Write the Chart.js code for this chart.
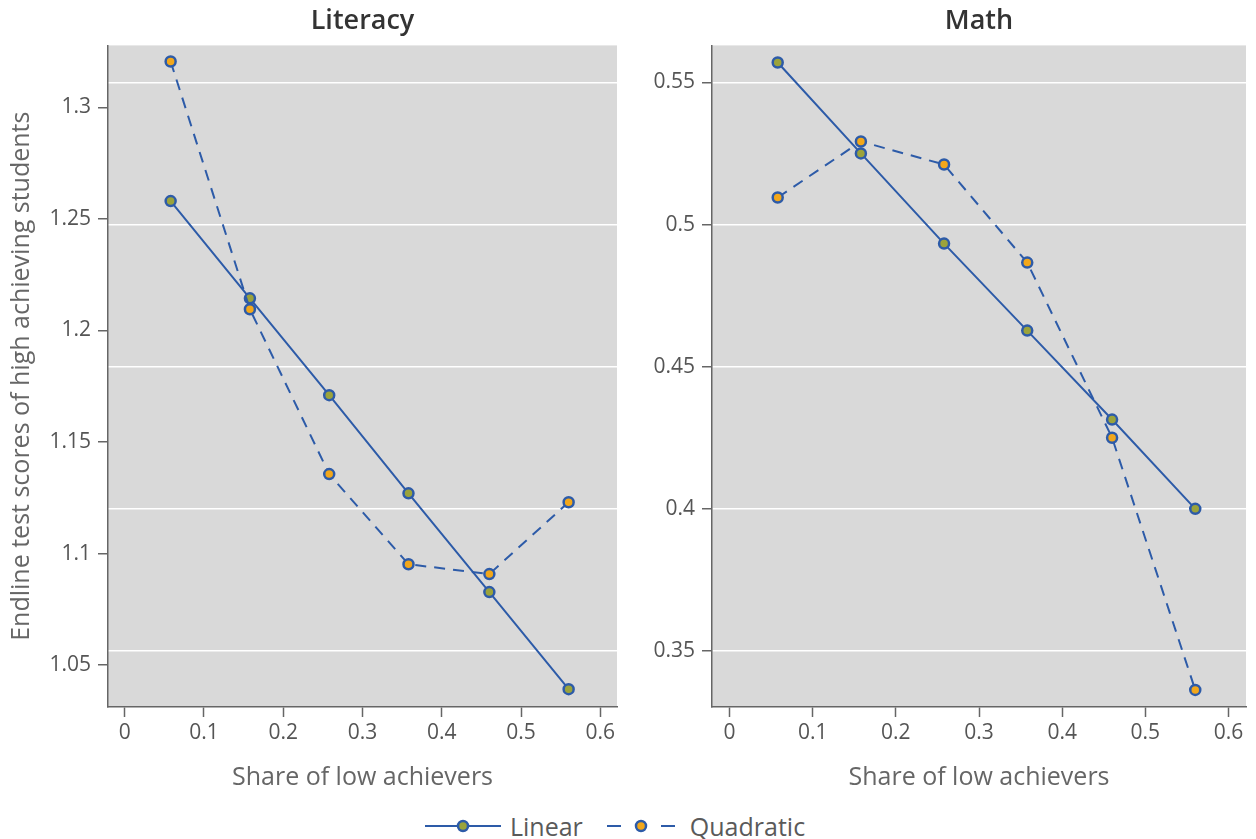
<!DOCTYPE html>
<html lang="en">

<head>
    <meta charset="UTF-8">
    <title>Endline test scores of high achieving students</title>
    <script src="https://cdn.jsdelivr.net/npm/chart.js"></script>
    <style>
        body {
            margin: 0;
            background: #fff;
            font-family: 'Open Sans', sans-serif;
        }

        .wrap {
            position: relative;
            width: 1256px;
            height: 839px;
        }

        #litBox {
            position: absolute;
            left: 0;
            top: 0;
        }

        #mathBox {
            position: absolute;
            left: 630px;
            top: 0;
        }

        .legend {
            position: absolute;
            left: 425px;
            top: 809px;
            display: flex;
            align-items: center;
            color: #5a5a5a;
            font-size: 25px;
        }

        .legend span {
            margin: 0 24px 0 9px;
        }
    </style>
</head>

<body>
    <div class="wrap">
        <div id="litBox"><canvas id="litChart" width="630" height="800"></canvas></div>
        <div id="mathBox"><canvas id="mathChart" width="626" height="800"></canvas></div>
        <div class="legend">
            <svg width="76" height="20">
                <line x1="0" y1="10" x2="76" y2="10" stroke="#2d5ba8" stroke-width="2"></line>
                <circle cx="38" cy="10" r="5" fill="#9ba33b" stroke="#2d5ba8" stroke-width="2.5"></circle>
            </svg>
            <span>Linear</span>
            <svg width="68" height="20">
                <line x1="0" y1="10" x2="14" y2="10" stroke="#2d5ba8" stroke-width="2"></line>
                <line x1="54" y1="10" x2="68" y2="10" stroke="#2d5ba8" stroke-width="2"></line>
                <circle cx="34" cy="10" r="5" fill="#f2a71b" stroke="#2d5ba8" stroke-width="2.5"></circle>
            </svg>
            <span style="margin-left: 15px">Quadratic</span>
        </div>
    </div>

    <script>
        // data
        const xShare = [0.058, 0.158, 0.258, 0.358, 0.46, 0.56];
        const litLinear = [1.258, 1.2144, 1.171, 1.127, 1.0827, 1.0392];
        const litQuad = [1.3206, 1.2095, 1.1356, 1.0952, 1.0908, 1.123];
        const mathLinear = [0.557, 0.525, 0.4933, 0.4627, 0.4314, 0.400];
        const mathQuad = [0.5095, 0.5292, 0.5211, 0.4866, 0.425, 0.3363];

        // tick labels
        const xTicks = [0, 0.1, 0.2, 0.3, 0.4, 0.5, 0.6];
        const litTicks = [1.05, 1.1, 1.15, 1.2, 1.25, 1.3];
        const mathTicks = [0.35, 0.4, 0.45, 0.5, 0.55];

        // axis ranges
        const xMin = -0.021, xMax = 0.621;
        const litMin = 1.0312, litMax = 1.3278;
        const mathMin = 0.3303, mathMax = 0.563;

        const blue = '#2d5ba8';
        const olive = '#9ba33b';
        const orange = '#f2a71b';
        const axisGray = '#666';

        Chart.defaults.font.family = "'Open Sans', sans-serif";
        Chart.defaults.color = '#555';

        const plotBg = {
            id: 'plotBg',
            beforeDraw(chart) {
                const { ctx, chartArea: a } = chart;
                ctx.save();
                ctx.fillStyle = '#d9d9d9';
                ctx.fillRect(a.left, a.top, a.width, a.height);
                ctx.restore();
            }
        };

        function pts(ys) {
            return xShare.map((x, i) => ({ x: x, y: ys[i] }));
        }

        function series(label, ys, fill, dash, order) {
            return {
                label: label,
                data: pts(ys),
                borderColor: blue,
                borderWidth: 2,
                borderDash: dash,
                pointRadius: 5,
                pointBorderWidth: 2.5,
                pointBackgroundColor: fill,
                pointBorderColor: blue,
                tension: 0,
                order: order
            };
        }

        function fixTicks(list) {
            return s => { s.ticks = list.map(v => ({ value: v })); };
        }

        function xScale() {
            return {
                type: 'linear',
                min: xMin,
                max: xMax,
                afterBuildTicks: fixTicks(xTicks),
                afterFit: s => { s.height = 93; },
                border: { color: axisGray, width: 1.5 },
                grid: { drawOnChartArea: false, tickLength: 10, tickColor: axisGray, tickWidth: 1.5 },
                ticks: { padding: 3, font: { size: 21, weight: 500 }, color: '#555', callback: v => String(v) },
                title: {
                    display: true,
                    text: 'Share of low achievers',
                    color: '#666',
                    font: { size: 25 },
                    padding: { top: 0, bottom: 7 }
                }
            };
        }

        function yScale(lo, hi, list, width, title, ownGrid) {
            return {
                type: 'linear',
                position: 'left',
                min: lo,
                max: hi,
                afterBuildTicks: fixTicks(list),
                afterFit: s => { s.width = width; },
                border: { color: axisGray, width: 1.5 },
                grid: {
                    drawOnChartArea: ownGrid,
                    color: '#fff',
                    lineWidth: 1.5,
                    tickLength: 10,
                    tickColor: axisGray,
                    tickWidth: 1.5
                },
                ticks: { padding: 7, font: { size: 21, weight: 500 }, color: '#555', callback: v => String(v) },
                title: {
                    display: !!title,
                    text: title,
                    color: '#666',
                    font: { size: 25 },
                    padding: { top: 7, bottom: 0 }
                }
            };
        }

        function titleOpts(text) {
            return {
                display: true,
                text: text,
                fullSize: false,
                color: '#333',
                font: { size: 27, weight: 600 },
                padding: { top: 5, bottom: 8 }
            };
        }

        // Literacy panel
        const litCtx = document.getElementById('litChart').getContext('2d');
        new Chart(litCtx, {
            type: 'line',
            data: {
                datasets: [
                    series('Linear', litLinear, olive, [], 1),
                    series('Quadratic', litQuad, orange, [11, 8], 0)
                ]
            },
            options: {
                responsive: false,
                animation: false,
                layout: { padding: { left: 0, right: 13, top: 0, bottom: 0 } },
                scales: {
                    x: xScale(),
                    y: yScale(litMin, litMax, litTicks, 108, 'Endline test scores of high achieving students', false),
                    // white grid lines of this panel sit at the Math panel's tick heights
                    g: {
                        type: 'linear',
                        position: 'right',
                        min: mathMin,
                        max: mathMax,
                        afterBuildTicks: fixTicks(mathTicks),
                        afterFit: s => { s.width = 0; },
                        border: { display: false },
                        grid: { color: '#fff', lineWidth: 1.5, drawTicks: false },
                        ticks: { display: false }
                    }
                },
                plugins: {
                    legend: { display: false },
                    tooltip: { enabled: false },
                    title: titleOpts('Literacy')
                }
            },
            plugins: [plotBg]
        });

        // Math panel
        const mathCtx = document.getElementById('mathChart').getContext('2d');
        new Chart(mathCtx, {
            type: 'line',
            data: {
                datasets: [
                    series('Linear', mathLinear, olive, [], 1),
                    series('Quadratic', mathQuad, orange, [11, 8], 0)
                ]
            },
            options: {
                responsive: false,
                animation: false,
                layout: { padding: { left: 0, right: 10, top: 0, bottom: 0 } },
                scales: {
                    x: xScale(),
                    y: yScale(mathMin, mathMax, mathTicks, 82, '', true)
                },
                plugins: {
                    legend: { display: false },
                    tooltip: { enabled: false },
                    title: titleOpts('Math')
                }
            },
            plugins: [plotBg]
        });
    </script>
</body>

</html>
